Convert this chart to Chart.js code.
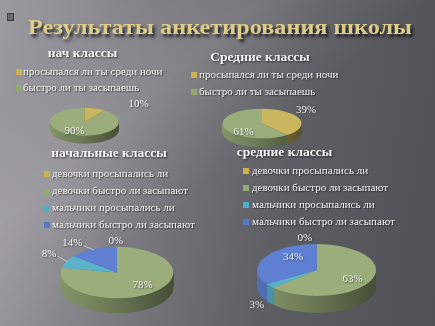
<!DOCTYPE html>
<html><head><meta charset="utf-8">
<script src="https://cdn.jsdelivr.net/npm/chart.js@4.4.1/dist/chart.umd.min.js"></script>
<style>
html,body{margin:0;padding:0;background:#555;}
#slide{position:relative;width:435px;height:326px;overflow:hidden;font-family:"Liberation Serif","Times New Roman",serif;
background:
 linear-gradient(140deg, rgba(255,255,255,0) 15%, rgba(255,255,255,0.10) 32%, rgba(255,255,255,0) 52%),
 linear-gradient(100deg, #9c9aa1 0%, #8f8d94 18%, #737278 42%, #5d5d64 65%, #505057 100%);}
canvas.pie{position:absolute;left:0;top:0;}
.txt{position:absolute;white-space:nowrap;}
.ttl{font-weight:bold;font-size:13.5px;line-height:16px;color:#f6f6f6;text-shadow:1px 1px 2px rgba(0,0,0,0.65);transform:translateX(-50%);}
.leg{font-size:11px;line-height:14px;color:#f2f2f2;text-shadow:1px 1px 1px rgba(0,0,0,0.55);}
.sq{position:absolute;width:6px;height:6px;}
#main{font-size:22px;line-height:26px;font-weight:bold;color:#dccd8b;text-shadow:2px 3px 3px rgba(0,0,0,0.75);transform-origin:0 0;}
#deco{position:absolute;left:7px;top:13px;width:5px;height:6px;border:1px solid #3c3c42;background:#6a6a70;}
</style></head><body><div id="slide"><div id="deco"></div></div>
<script>
// ---------- data ----------
const slideTitle = "Результаты анкетирования школы";

const chart1Title = "нач классы";
const chart1Labels = ["просыпался ли ты среди ночи", "быстро ли ты засыпаешь"];
const chart1Values = [10, 90];

const chart2Title = "Средние классы";
const chart2Labels = ["просыпался ли ты среди ночи", "быстро ли ты засыпаешь"];
const chart2Values = [39, 61];

const chart3Title = "начальные классы";
const chart3Labels = ["девочки просыпались ли", "девочки быстро ли засыпают", "мальчики просыпались ли", "мальчики быстро ли засыпают"];
const chart3Values = [0, 78, 8, 14];

const chart4Title = "средние классы";
const chart4Labels = ["девочки просыпались ли", "девочки быстро ли засыпают", "мальчики просыпались ли", "мальчики быстро ли засыпают"];
const chart4Values = [0, 63, 3, 34];

// ---------- styles / layout ----------
const sliceColors2 = ["#cbb660", "#9aad7a"];
const sliceColors4 = ["#cbb660", "#9aad7a", "#5bb2c9", "#5f80d2"];
const legendColors2 = ["#cfb24e", "#93ab6c"];
const legendColors4 = ["#cfb24e", "#93ab6c", "#4fb0c8", "#5379c8"];

const layouts = [
  { title: chart1Title, labels: chart1Labels, values: chart1Values, colors: sliceColors2, legColors: legendColors2,
    geom: {cx: 84.5, cy: 121.7, rx: 34.5, ry: 14, depth: 8},
    titlePos: {x: 82.5, y: 54}, legend: {x: 16, tx: 23, rows: [72, 88]},
    place: [{r: 2.02, d: 33}, {r: 0.725, d: 5.6}] },
  { title: chart2Title, labels: chart2Labels, values: chart2Values, colors: sliceColors2, legColors: legendColors2,
    geom: {cx: 262, cy: 123.5, rx: 39.5, ry: 14.8, depth: 9},
    titlePos: {x: 260, y: 58}, legend: {x: 191, tx: 199, rows: [75, 92]},
    place: [{r: 1.45, d: -20}, {r: 0.757, d: -32}] },
  { title: chart3Title, labels: chart3Labels, values: chart3Values, colors: sliceColors4, legColors: legendColors4,
    geom: {cx: 117, cy: 272.5, rx: 56.3, ry: 25.8, depth: 15},
    titlePos: {x: 109, y: 154}, legend: {x: 44, tx: 52, rows: [174, 191.5, 208.5, 225]},
    place: [{r: 1.22, d: -1}, {r: 0.665, d: -3.7}, {r: 1.405, d: 5.5, leader: true}, {r: 1.379, d: -10, leader: true}] },
  { title: chart4Title, labels: chart4Labels, values: chart4Values, colors: sliceColors4, legColors: legendColors4,
    geom: {cx: 316.7, cy: 270, rx: 59.3, ry: 26, depth: 17},
    titlePos: {x: 284.5, y: 153}, legend: {x: 243, tx: 252, rows: [170.7, 187.7, 204.7, 221.7]},
    place: [{r: 1.247, d: -9.3}, {r: 0.706, d: 7.7}, {r: 1.672, d: -15}, {r: 0.625, d: 21.5}] }
];

function shade(hex, f) {
  const n = parseInt(hex.slice(1), 16);
  const r = Math.round(((n >> 16) & 255) * f), g = Math.round(((n >> 8) & 255) * f), b = Math.round((n & 255) * f);
  return `rgb(${r},${g},${b})`;
}

function pie3d(L) {
  const g = L.geom;
  return {
    id: 'pie3d',
    beforeDatasetsDraw(chart) {
      const ctx = chart.ctx;
      const arcs = chart.getDatasetMeta(0).data;
      const a0 = arcs[0];
      const X = a0.x, Y = a0.y, R = a0.outerRadius;
      const base = ctx.getTransform();
      const setT = (dy) => {
        ctx.setTransform(base);
        ctx.translate(g.cx, g.cy + dy);
        ctx.scale(g.rx / R, g.ry / R);
        ctx.translate(-X, -Y);
      };
      ctx.save();
      for (let k = g.depth; k > 0; k -= 0.5) {
        setT(k);
        arcs.forEach((arc, i) => {
          const col = L.colors[i];
          const grad = ctx.createLinearGradient(X - R, 0, X + R, 0);
          grad.addColorStop(0, shade(col, 0.86));
          grad.addColorStop(0.45, shade(col, 0.7));
          grad.addColorStop(1, shade(col, 0.45));
          const fake = Object.create(arc);
          fake.options = Object.assign({}, arc.options, {backgroundColor: grad, borderWidth: 0});
          fake.draw(ctx);
        });
      }
      setT(0);
    },
    afterDatasetsDraw(chart) {
      const ctx = chart.ctx;
      ctx.restore();
      const arcs = chart.getDatasetMeta(0).data;
      const vals = chart.data.datasets[0].data;
      ctx.save();
      ctx.font = '11px "Liberation Serif", serif';
      ctx.textAlign = 'center';
      ctx.textBaseline = 'middle';
      arcs.forEach((arc, i) => {
        const p = L.place[i];
        const mid = (arc.startAngle + arc.endAngle) / 2;
        const a = mid + p.d * Math.PI / 180;
        const x = g.cx + g.rx * p.r * Math.cos(a);
        const y = g.cy + g.ry * p.r * Math.sin(a);
        const txt = vals[i] + '%';
        if (p.leader) {
          const w = ctx.measureText(txt).width;
          ctx.save();
          ctx.strokeStyle = 'rgba(215,215,220,0.9)';
          ctx.lineWidth = 0.8;
          ctx.beginPath();
          ctx.moveTo(x + w / 2 + 1, y + 2);
          ctx.lineTo(g.cx + g.rx * 0.97 * Math.cos(mid), g.cy + g.ry * 0.97 * Math.sin(mid));
          ctx.stroke();
          ctx.restore();
        }
        ctx.shadowColor = 'rgba(0,0,0,0.55)';
        ctx.shadowBlur = 1.5;
        ctx.shadowOffsetX = 0.8;
        ctx.shadowOffsetY = 0.8;
        ctx.fillStyle = '#f4f4f4';
        ctx.fillText(txt, x, y);
        ctx.shadowColor = 'transparent';
      });
      ctx.restore();
    }
  };
}

const slide = document.getElementById('slide');

layouts.forEach((L) => {
  const cv = document.createElement('canvas');
  cv.className = 'pie';
  cv.width = 435; cv.height = 326;
  cv.style.width = '435px'; cv.style.height = '326px';
  slide.appendChild(cv);
  new Chart(cv, {
    type: 'pie',
    data: { labels: L.labels, datasets: [{ data: L.values, backgroundColor: L.colors, borderWidth: 0, clip: false }] },
    options: {
      responsive: false, animation: false, events: [], devicePixelRatio: 1,
      plugins: { legend: { display: false }, title: { display: false }, tooltip: { enabled: false } }
    },
    plugins: [pie3d(L)]
  });
});

// text layer
function addDiv(cls, text, left, top) {
  const d = document.createElement('div');
  d.className = 'txt ' + cls;
  d.textContent = text;
  d.style.left = left + 'px';
  d.style.top = top + 'px';
  slide.appendChild(d);
  return d;
}
const main = addDiv('', slideTitle, 28, 14);
main.id = 'main';
const mw = main.getBoundingClientRect().width;
main.style.transform = `scaleX(${384 / mw})`;

layouts.forEach((L) => {
  addDiv('ttl', L.title, L.titlePos.x, L.titlePos.y - 9.5);
  L.labels.forEach((lab, i) => {
    const y = L.legend.rows[i];
    const sq = document.createElement('div');
    sq.className = 'sq';
    sq.style.left = L.legend.x + 'px';
    sq.style.top = (y - 3) + 'px';
    sq.style.background = L.legColors[i];
    slide.appendChild(sq);
    addDiv('leg', lab, L.legend.tx, y - 8.2);
  });
});
</script></body></html>
